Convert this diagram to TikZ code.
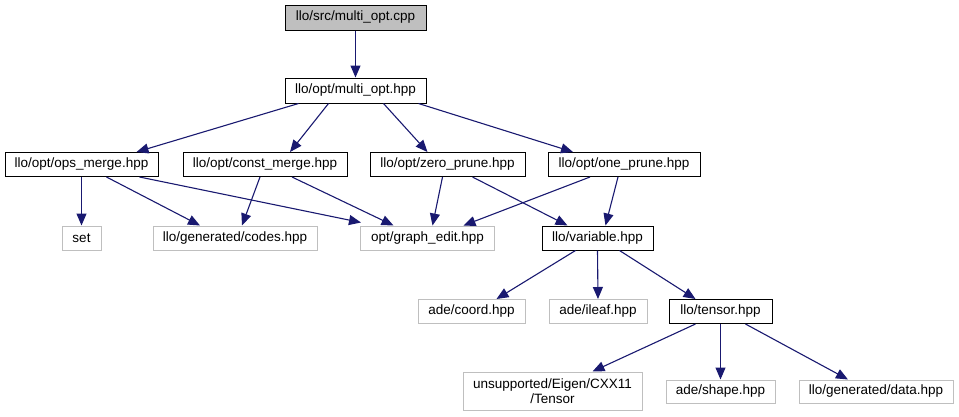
\documentclass[tikz,border=0pt]{standalone}
\usepackage{fontspec}
\setmainfont{Liberation Sans}
\usetikzlibrary{arrows.meta}
\definecolor{edgeblue}{HTML}{191970}
\definecolor{extgray}{HTML}{BFBFBF}
\begin{document}
\begin{tikzpicture}[x=1pt,y=-1pt,
  box/.style={draw=black,line width=1pt,inner sep=0pt,align=center,font=\fontsize{13.5}{15}\selectfont},
  ext/.style={box,draw=extgray},
  dep/.style={draw=edgeblue,line width=1.1pt,-{Triangle[length=12pt,width=10pt]}}]
\useasboundingbox (0,0) rectangle (959,416);
\node[box,fill=extgray,minimum width=141,minimum height=25] (cpp) at (355.5,17.5) {llo/src/multi\_opt.cpp};
\node[box,minimum width=141,minimum height=25] (multi) at (355.5,90.5) {llo/opt/multi\_opt.hpp};
\node[box,minimum width=153,minimum height=24] (ops) at (81.5,164.5) {llo/opt/ops\_merge.hpp};
\node[box,minimum width=164,minimum height=24] (const) at (265,164.5) {llo/opt/const\_merge.hpp};
\node[box,minimum width=155,minimum height=24] (zero) at (447.5,164.5) {llo/opt/zero\_prune.hpp};
\node[box,minimum width=152,minimum height=24] (one) at (624,164.5) {llo/opt/one\_prune.hpp};
\node[ext,minimum width=39,minimum height=24] (set) at (81.5,238) {set};
\node[ext,minimum width=164,minimum height=24] (codes) at (235,238) {llo/generated/codes.hpp};
\node[ext,minimum width=134,minimum height=24] (ge) at (427.5,238) {opt/graph\_edit.hpp};
\node[box,minimum width=111,minimum height=24] (var) at (597.5,238) {llo/variable.hpp};
\node[ext,minimum width=107,minimum height=24] (coord) at (471.5,311.5) {ade/coord.hpp};
\node[ext,minimum width=98,minimum height=24] (ileaf) at (598,311.5) {ade/ileaf.hpp};
\node[box,minimum width=103,minimum height=24] (tensor) at (720.5,311.5) {llo/tensor.hpp};
\node[ext,minimum width=179,minimum height=38] (eigen) at (552.5,391) {unsupported/Eigen/CXX11\\/Tensor};
\node[ext,minimum width=109,minimum height=23] (shape) at (720.5,391.5) {ade/shape.hpp};
\node[ext,minimum width=154,minimum height=23] (data) at (876,391.5) {llo/generated/data.hpp};
\draw[dep] (cpp.south) -- (multi.north);
\draw[dep] ([xshift=-57]multi.south) -- ([xshift=55]ops.north);
\draw[dep] ([xshift=-27]multi.south) -- ([xshift=25]const.north);
\draw[dep] ([xshift=28]multi.south) -- ([xshift=-20]zero.north);
\draw[dep] ([xshift=63]multi.south) -- ([xshift=-51]one.north);
\draw[dep] (ops.south) -- (set.north);
\draw[dep] ([xshift=25]ops.south) -- ([xshift=-35]codes.north);
\draw[dep] ([xshift=58]ops.south) -- ([xshift=1,yshift=3]ge.north west);
\draw[dep] ([xshift=-5]const.south) -- ([xshift=7]codes.north);
\draw[dep] ([xshift=27]const.south) -- ([xshift=-34]ge.north);
\draw[dep] ([xshift=-5]zero.south) -- ([xshift=5]ge.north);
\draw[dep] ([xshift=25]zero.south) -- ([xshift=-30]var.north);
\draw[dep] ([xshift=-34]one.south) -- ([xshift=36]ge.north);
\draw[dep] ([xshift=-6]one.south) -- ([xshift=8]var.north);
\draw[dep] ([xshift=-22]var.south) -- ([xshift=25]coord.north);
\draw[dep] (var.south) -- (ileaf.north);
\draw[dep] ([xshift=22]var.south) -- ([xshift=-25]tensor.north);
\draw[dep] ([xshift=-25]tensor.south) -- ([xshift=40]eigen.north);
\draw[dep] (tensor.south) -- (shape.north);
\draw[dep] ([xshift=25]tensor.south) -- ([xshift=-28]data.north);
\end{tikzpicture}
\end{document}
